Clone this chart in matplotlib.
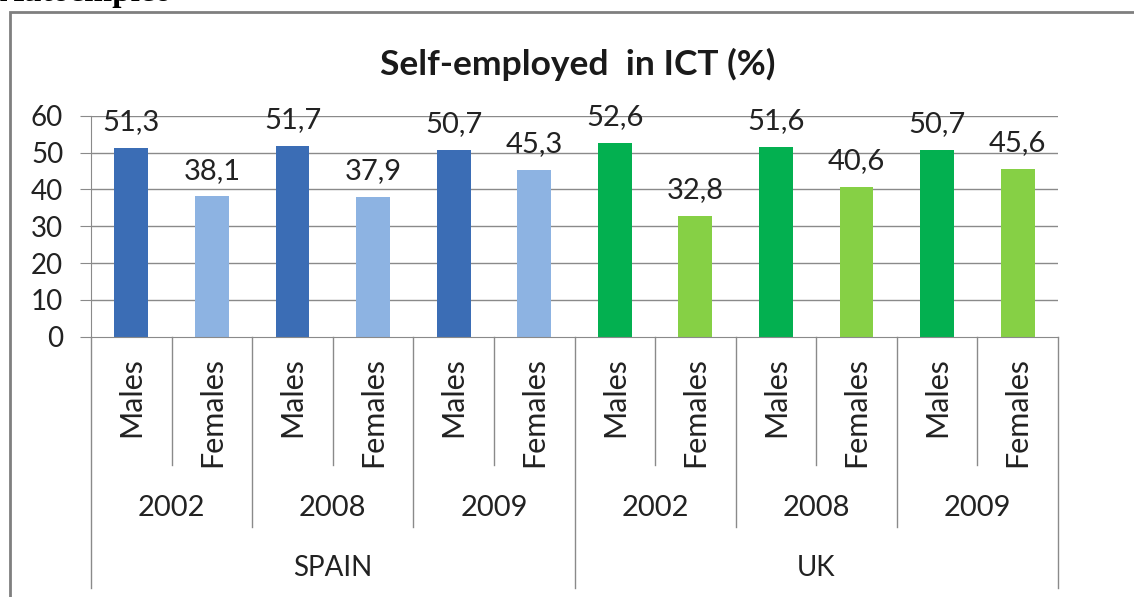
import matplotlib.pyplot as plt
from matplotlib.patches import Rectangle
from matplotlib.lines import Line2D
from matplotlib.transforms import blended_transform_factory

# Self-employment share in ICT by country, year and sex
countries = ["SPAIN", "UK"]
years = ["2002", "2008", "2009"]
sexes = ["Males", "Females"]
spain_values = [51.3, 38.1, 51.7, 37.9, 50.7, 45.3]
uk_values = [52.6, 32.8, 51.6, 40.6, 50.7, 45.6]
value_labels = ["51,3", "38,1", "51,7", "37,9", "50,7", "45,3",
                "52,6", "32,8", "51,6", "40,6", "50,7", "45,6"]
yticks = [0, 10, 20, 30, 40, 50, 60]

colors = {"SPAIN": ["#3b6db5", "#8db3e2"], "UK": ["#03b050", "#86d045"]}

plt.rcParams['font.family'] = ['Lato', 'DejaVu Sans']

W, H = 1134, 597
fig = plt.figure(figsize=(W / 100, H / 100), dpi=100)

def fx(px):
    return px / W

def fy(py):
    return 1 - py / H

# plot area in pixel coordinates
x0, x1, ytop, ybot = 91, 1058, 115.7, 336.7
ax = fig.add_axes([fx(x0), fy(ybot), fx(x1) - fx(x0), fy(ytop) - fy(ybot)])

values = spain_values + uk_values
n = len(values)
bar_colors = []
for c in countries:
    bar_colors += colors[c] * len(years)

ax.set_xlim(-0.5, n - 0.5)
ax.set_ylim(0, 60)
for y in yticks[1:]:
    ax.axhline(y, color="#8a8a8a", lw=1, zorder=0)

xs = list(range(n))
ax.bar(xs, values, width=0.42, color=bar_colors, zorder=2)
for x, v, lab in zip(xs, values, value_labels):
    ax.text(x, v + 7.0, lab, ha="center", va="center", fontsize=21,
            color="#222222", clip_on=False)

ax.set_yticks(yticks)
ax.set_yticklabels([str(t) for t in yticks], fontsize=20, color="#222222")
ax.tick_params(axis="y", length=8, color="#8a8a8a", pad=12)
ax.set_xticks([])
for s in ["top", "right"]:
    ax.spines[s].set_visible(False)
for s in ["left", "bottom"]:
    ax.spines[s].set_color("#8a8a8a")

# multi-level category axis
tr = blended_transform_factory(ax.transData, fig.transFigure)
line_kw = dict(color="#8a8a8a", lw=1, transform=tr, clip_on=False)

per_country = len(years) * len(sexes)
for i in range(n + 1):
    xb = i - 0.5
    if i % per_country == 0:
        y_end = 588
    elif i % len(sexes) == 0:
        y_end = 527
    else:
        y_end = 465
    fig.add_artist(Line2D([xb, xb], [fy(ybot), fy(y_end)], **line_kw))

for i in range(n):
    sex = sexes[i % len(sexes)]
    fig.text(i, fy(357), sex, rotation=90, ha="center", va="top",
             fontsize=22, color="#222222", transform=tr)

for k in range(len(countries) * len(years)):
    xc = k * len(sexes) + (len(sexes) - 1) / 2
    fig.text(xc, fy(508), years[k % len(years)], ha="center", va="center",
             fontsize=21, color="#222222", transform=tr)

for k, c in enumerate(countries):
    xc = k * per_country + (per_country - 1) / 2
    fig.text(xc, fy(568), c, ha="center", va="center",
             fontsize=20, color="#222222", transform=tr)

fig.text(fx(578), fy(64), "Self-employed  in ICT (%)", ha="center", va="center",
         fontsize=25.5, fontweight="bold", color="#1a1a1a")

# chart frame and the heading above it
fig.add_artist(Rectangle((fx(10), fy(600)), fx(1140) - fx(10), fy(12) - fy(600),
                         transform=fig.transFigure, fill=False,
                         edgecolor="#7f7f7f", lw=2))
fig.text(fx(0), fy(1.5), "Autoempleo", ha="left", va="baseline",
         fontsize=24, fontweight="bold", family="Liberation Serif")

fig.savefig("out.png", dpi=100)
